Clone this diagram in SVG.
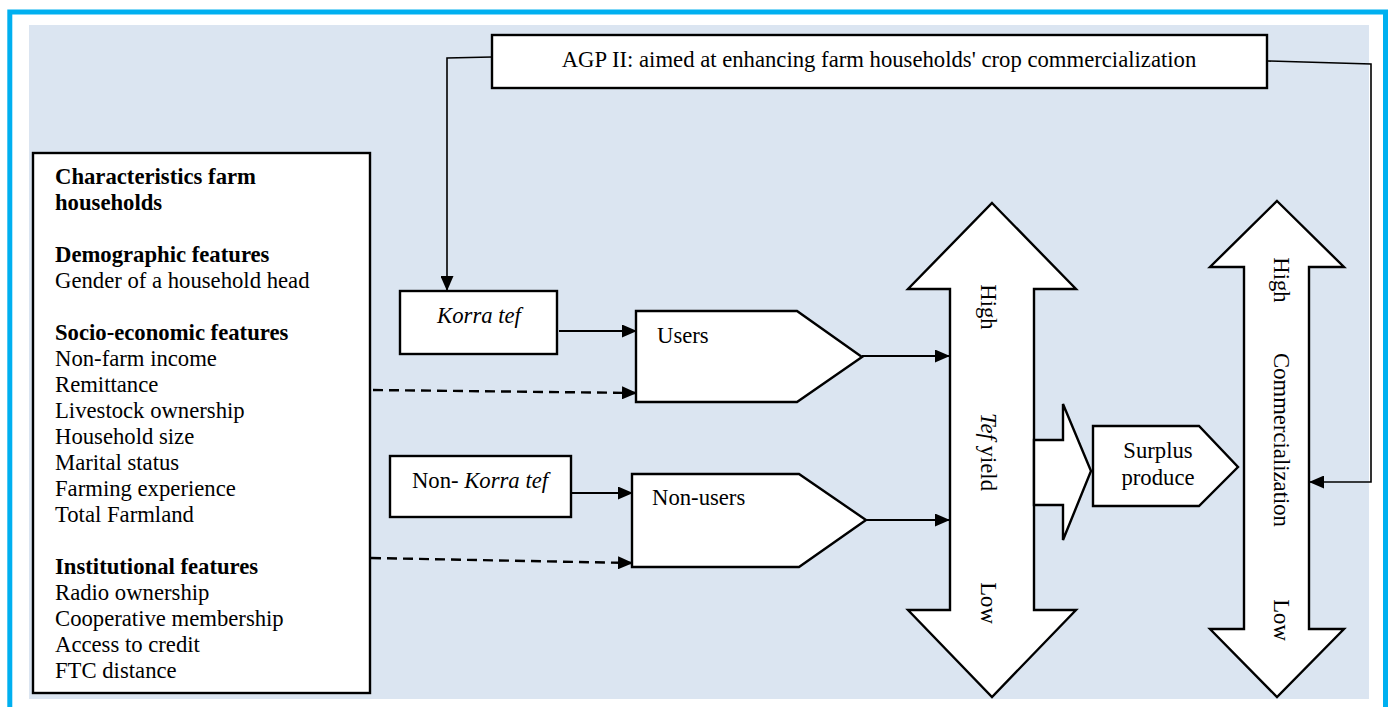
<svg xmlns="http://www.w3.org/2000/svg" width="1394" height="707" viewBox="0 0 1394 707">
  <defs>
    <marker id="arrow" markerUnits="userSpaceOnUse" markerWidth="15" markerHeight="13" refX="14" refY="6.5" orient="auto">
      <path d="M0,0 L15,6.5 L0,13 z" fill="#000"/>
    </marker>
    <style>
      text { font-family: "Liberation Serif", "Times New Roman", serif; font-size: 22.7px; fill: #000; }
      .b { font-weight: bold; }
      .i { font-style: italic; }
      .box { fill: #fff; stroke: #000; stroke-width: 2.4; }
      .link { fill: none; stroke: #000; stroke-width: 2.2; }
      .thin { fill: none; stroke: #000; stroke-width: 1.6; }
      .dash { fill: none; stroke: #000; stroke-width: 2.4; stroke-dasharray: 10 6; }
    </style>
  </defs>

  <!-- frame and panel -->
  <rect x="0" y="0" width="1394" height="707" fill="#fff"/>
  <rect x="9.8" y="12" width="1375.7" height="720" fill="none" stroke="#00B0F0" stroke-width="5"/>
  <rect x="29" y="25" width="1340" height="674" fill="#DBE5F1"/>

  <!-- connectors -->
  <g id="connectors">
    <polyline class="thin" points="492,57 447,58 447,290" marker-end="url(#arrow)"/>
    <polyline class="thin" points="1268,61 1371,64 1371,482 1310,482" marker-end="url(#arrow)"/>
    <line class="link" x1="559" y1="331" x2="636" y2="331" marker-end="url(#arrow)"/>
    <line class="link" x1="568" y1="493" x2="632" y2="493" marker-end="url(#arrow)"/>
    <line class="dash" x1="373" y1="390" x2="636" y2="393" marker-end="url(#arrow)"/>
    <line class="dash" x1="371" y1="558" x2="632" y2="563" marker-end="url(#arrow)"/>
    <line class="link" x1="862" y1="356" x2="949" y2="356" marker-end="url(#arrow)"/>
    <line class="link" x1="866" y1="520" x2="949" y2="520" marker-end="url(#arrow)"/>
  </g>

  <!-- programme box -->
  <g id="agp">
    <rect class="box" x="492" y="35" width="775" height="53"/>
    <text x="879" y="67" text-anchor="middle">AGP II: aimed at enhancing farm households' crop commercialization</text>
  </g>

  <!-- household characteristics -->
  <g id="characteristics">
    <rect class="box" x="33" y="153" width="337" height="540"/>
    <text x="55" y="184" class="b">Characteristics farm</text>
    <text x="55" y="210" class="b">households</text>
    <text x="55" y="262" class="b">Demographic features</text>
    <text x="55" y="288">Gender of a household head</text>
    <text x="55" y="340" class="b">Socio-economic features</text>
    <text x="55" y="366">Non-farm income</text>
    <text x="55" y="392">Remittance</text>
    <text x="55" y="418">Livestock ownership</text>
    <text x="55" y="444">Household size</text>
    <text x="55" y="470">Marital status</text>
    <text x="55" y="496">Farming experience</text>
    <text x="55" y="522">Total Farmland</text>
    <text x="55" y="574" class="b">Institutional features</text>
    <text x="55" y="600">Radio ownership</text>
    <text x="55" y="626">Cooperative membership</text>
    <text x="55" y="652">Access to credit</text>
    <text x="55" y="678">FTC distance</text>
  </g>

  <g id="korra">
    <rect class="box" x="400" y="291" width="157" height="63"/>
    <text x="479" y="323" text-anchor="middle" class="i">Korra tef</text>
  </g>

  <g id="non-korra">
    <rect class="box" x="390" y="456" width="181" height="61"/>
    <text x="480" y="488" text-anchor="middle">Non- <tspan class="i">Korra tef</tspan></text>
  </g>

  <g id="users">
    <polygon class="box" points="636,311 797,311 862,357 797,402 636,402"/>
    <text x="657" y="343">Users</text>
  </g>

  <g id="non-users">
    <polygon class="box" points="632,474 799,474 866,520 799,567 632,567"/>
    <text x="652" y="505">Non-users</text>
  </g>

  <g id="tef-yield">
    <polygon class="box" points="992,203 1076,289 1034,289 1034,610 1076,610 992,697 908,610 950,610 950,289 908,289"/>
    <text transform="translate(981,307) rotate(90)" text-anchor="middle">High</text>
    <text transform="translate(981,452) rotate(90)" text-anchor="middle"><tspan class="i">Tef</tspan> yield</text>
    <text transform="translate(981,603) rotate(90)" text-anchor="middle">Low</text>
  </g>

  <g id="yield-to-surplus">
    <polygon class="box" points="1034,440 1063,440 1063,404 1091,471 1063,540 1063,505 1034,505"/>
  </g>

  <g id="surplus">
    <polygon class="box" points="1093,426 1199,426 1238,467 1199,506 1093,506"/>
    <text x="1158" y="458" text-anchor="middle">Surplus</text>
    <text x="1158" y="485" text-anchor="middle">produce</text>
  </g>

  <g id="commercialization">
    <polygon class="box" points="1277,201 1344,267 1309,267 1309,629 1344,629 1277,697 1210,629 1244,629 1244,267 1210,267"/>
    <text transform="translate(1274,280) rotate(90)" text-anchor="middle">High</text>
    <text transform="translate(1274,440) rotate(90)" text-anchor="middle">Commercialization</text>
    <text transform="translate(1274,620) rotate(90)" text-anchor="middle">Low</text>
  </g>
</svg>
